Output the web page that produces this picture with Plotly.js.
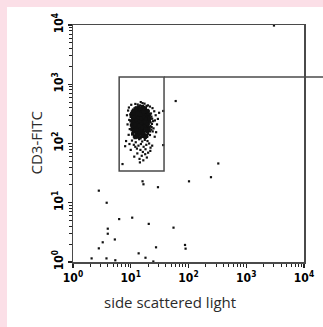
<!DOCTYPE html>
<html>
<head>
<meta charset="utf-8">
<script src="https://cdn.plot.ly/plotly-3.0.1.min.js"></script>
<style>
html,body{margin:0;padding:0;background:#fbdfe7;width:323px;height:327px;overflow:hidden;}
#panel{position:absolute;left:7px;top:7px;width:316px;height:320px;background:#ffffff;}
#chart{position:absolute;left:0;top:0;width:323px;height:327px;}
</style>
</head>
<body>
<div id="panel"></div>
<div id="chart"></div>
<script>
// Axis ticks
const tickValues = [1, 10, 100, 1000, 10000];
const tickLabels = ['<b>10<sup>0</sup></b>', '<b>10<sup>1</sup></b>', '<b>10<sup>2</sup></b>', '<b>10<sup>3</sup></b>', '<b>10<sup>4</sup></b>'];
const xTitle = 'side scattered light';
const yTitle = 'CD3-FITC';

// Gate (side scatter range, CD3-FITC range)
const gateX = [6.3, 37.7];
const gateY = [34.4, 1325];

// Dense CD3+ lymphocyte cluster core [SSC, CD3-FITC]
const clusterPoints = [
[12.5,400],[13.8,415],[15.1,392],[16.7,405],[11.9,385],[17.9,395],[13.1,380],[15.9,420],
[11.2,365],[12.2,356],[13.3,370],[14.1,350],[15.4,362],[16.3,352],[17.2,372],[18.4,345],[19.6,360],[10.7,340],[12.8,338],[14.8,378],[16.0,336],[11.6,352],
[10.4,320],[11.3,310],[12.1,328],[12.9,305],[13.6,318],[14.5,332],[15.2,302],[16.1,324],[17.0,311],[17.8,334],[18.7,316],[19.9,326],[21.1,308],[10.9,298],[12.5,342],[14.0,297],[15.8,340],[17.5,299],[19.1,303],
[10.2,287],[10.8,271],[11.5,290],[12.3,264],[13.0,281],[13.7,258],[14.3,276],[15.0,292],[15.7,266],[16.4,284],[17.1,255],[17.9,272],[18.6,290],[19.4,261],[20.3,279],[21.3,268],[11.9,252],[14.7,251],[16.9,295],[12.7,296],
[10.1,241],[10.6,226],[11.2,247],[11.8,218],[12.4,236],[13.1,212],[13.8,244],[14.5,228],[15.3,215],[16.0,239],[16.8,222],[17.6,248],[18.4,211],[19.2,233],[20.1,220],[21.0,243],[12.9,229],[15.6,233],[18.0,236],
[10.3,205],[10.9,190],[11.6,199],[12.2,184],[12.9,207],[13.5,193],[14.2,181],[14.9,202],[15.6,188],[16.3,198],[17.1,183],[17.9,206],[18.8,191],[19.7,200],[20.7,185],[11.3,182],[13.9,209],[16.7,209],
[10.5,172],[11.1,160],[11.8,177],[12.5,155],[13.2,168],[13.9,151],[14.6,175],[15.3,161],[16.0,170],[16.8,153],[17.6,179],[18.5,164],[19.4,157],[20.4,173],[12.0,165],[14.3,163],[16.4,178],[15.0,152],
[10.8,145],[11.6,133],[12.4,148],[13.1,128],[13.8,140],[14.5,125],[15.2,146],[16.0,132],[16.9,141],[17.8,127],[18.8,137],[12.8,138],[15.6,137],[11.9,126],[14.1,149],
[12.6,310],[13.4,295],[14.0,270],[14.8,245],[15.5,280],[13.6,233],[14.4,214],[15.9,205],[13.0,186],[14.6,192],[16.2,255],[15.0,318],[13.9,327],[16.6,303],[12.2,275],[17.4,265],[14.2,302],[15.4,250],[13.3,248],[16.5,226],[12.6,221],[14.9,168],[13.5,176],[17.3,195],[12.0,200],[15.8,356],[13.7,365],[11.7,320],[18.1,224],[17.0,238],
[12.9,257],[14.6,286],[16.0,271],[13.2,343],[15.1,228],[14.3,240],[13.0,170],[16.3,186],[11.4,233],[11.0,262],[18.3,300],[19.0,246],[20.6,258],[19.8,314],[17.7,348],[16.8,365],[14.6,390],[12.3,375],[11.0,350],
[12.0,290],[13.5,270],[15.2,262],[16.8,280],[18.2,258],[11.5,275],[14.8,310],[13.0,323],[16.5,340],[12.4,250],[17.5,230],[13.8,200],[15.5,185],[11.8,210],[19.0,215],[14.0,160],[16.2,150],[12.6,170],[18.0,175],[10.6,190]
];

// Sparse halo around the cluster
const haloPoints = [
[12.0,465],[14.9,500],[17.3,470],[10.2,450],[19.8,440],[21.5,420],[9.3,405],[23.8,395],[16.0,480],[13.2,455],[14.4,440],[18.8,430],
[9.0,360],[8.6,300],[9.4,250],[8.8,210],[9.6,175],[9.2,140],[8.3,110],[9.8,310],
[25.5,350],[27.0,300],[26.2,245],[28.5,210],[24.8,180],[27.5,155],[29.5,260],[31.0,330],[26.0,130],[24.0,160],
[22.4,321],[22.8,284],[23.5,262],[22.1,227],[23.3,214],[24.4,238],[21.9,197],[23.0,189],[21.6,160],[22.7,171],[20.0,146],[21.5,139],[19.3,129],[20.5,352],
[10.5,112],[12.2,105],[14.0,118],[15.8,108],[17.5,115],[19.5,110],[11.3,95],[13.6,92],[15.0,98],[16.7,88],[18.6,95],[20.8,100],
[12.8,82],[14.7,78],[16.2,72],[18.0,80],[22.0,85],[10.0,78],[13.0,68],[15.5,62],[17.8,66],[20.0,70],[11.5,60],[14.2,55],
[16.5,52],[12.0,88],[19.0,58],[21.8,75],[23.5,92],[9.5,98],[14.4,48],[8.0,90],[7.2,45],[36.5,354],[36.5,94]
];

// Events outside the gate
const outlierPoints = [
[3020,9800],[60,521],[328,46],[245,27],[102,23],[16,23],[16.6,20.5],[29.6,18.3],[2.8,16],[3.83,10],
[6.3,5.3],[10.6,5.6],[20.5,4.4],[55,3.8],[4.0,3.65],[4.0,3.0],[5.3,2.4],[3.27,2.15],[2.8,1.7],[27.4,1.77],
[87,1.94],[89,1.68],[13.7,1.4],[2.1,1.15],[3.8,1.15],[5.4,1.07],[18,1.18],[24.6,1.02]
];

function makeTrace(pts, size) {
  return {
    type: 'scatter', mode: 'markers',
    x: pts.map(p => p[0]), y: pts.map(p => p[1]),
    marker: {symbol: 'square', size: size, color: '#111111', line: {width: 0}},
    hoverinfo: 'skip', showlegend: false
  };
}

const minorVals = [];
for (let e = 0; e < 4; e++) for (let k = 2; k <= 9; k++) minorVals.push(k * Math.pow(10, e));

const lx = v => Math.log10(v) / 4;
const lineCol = '#4a4a4a';
const tickFont = {family: 'DejaVu Sans Condensed, Liberation Sans, Arial', size: 12, color: '#000'};

function axisCfg() {
  return {
    type: 'log', range: [0, 4], tickmode: 'array', tickvals: tickValues, ticktext: tickLabels,
    ticks: 'outside', ticklen: 4, tickwidth: 1.2, tickcolor: '#222',
    showline: true, linecolor: lineCol, linewidth: 1.5, mirror: true,
    showgrid: false, zeroline: false, tickfont: tickFont,
    minor: {tickmode: 'array', tickvals: minorVals, ticks: 'outside', ticklen: 3, tickwidth: 1, tickcolor: '#222', showgrid: false}
  };
}

const xa = axisCfg();
const ya = axisCfg();
ya.tickangle = -90;

const layout = {
  width: 323, height: 327,
  margin: {l: 73, r: 19, t: 25, b: 65},
  paper_bgcolor: 'rgba(0,0,0,0)', plot_bgcolor: '#ffffff',
  xaxis: xa, yaxis: ya,
  shapes: [
    {type: 'rect', xref: 'paper', yref: 'paper', x0: lx(gateX[0]), x1: lx(gateX[1]), y0: lx(gateY[0]), y1: lx(gateY[1]),
     line: {color: lineCol, width: 1.5}, fillcolor: 'rgba(0,0,0,0)'},
    {type: 'line', xref: 'paper', yref: 'paper', x0: lx(gateX[1]), x1: 1.09, y0: lx(gateY[1]), y1: lx(gateY[1]),
     line: {color: lineCol, width: 1.5}}
  ],
  annotations: [
    {text: xTitle, xref: 'paper', yref: 'paper', x: 0.42, y: -0.169, showarrow: false, xanchor: 'center', yanchor: 'middle',
     font: {family: 'Open Sans, Noto Sans, sans-serif', size: 15, color: '#2b2b2b'}},
    {text: yTitle, xref: 'paper', yref: 'paper', x: -0.1645, y: 0.5, showarrow: false, textangle: -90, xanchor: 'center', yanchor: 'middle',
     font: {family: 'Open Sans, Noto Sans, sans-serif', size: 15, color: '#2b2b2b'}}
  ]
};

Plotly.newPlot('chart', [makeTrace(outlierPoints, 2.2), makeTrace(haloPoints, 2.2), makeTrace(clusterPoints, 3.4)], layout, {displayModeBar: false, staticPlot: true});
</script>
</body>
</html>
